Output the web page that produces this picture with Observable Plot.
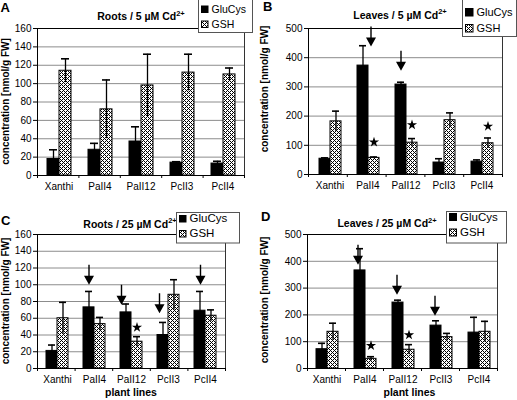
<!DOCTYPE html>
<html><head><meta charset="utf-8">
<script src="https://cdn.jsdelivr.net/npm/d3@7"></script>
<script src="https://cdn.jsdelivr.net/npm/@observablehq/plot@0.6"></script>
<style>
html,body{margin:0;padding:0;background:#fff;}
#chart{position:relative;width:517px;height:400px;overflow:hidden;background:#fff;}
#chart svg{position:absolute;left:0;top:0;}
</style></head>
<body><div id="chart"></div>
<script>
// ---------- data ----------
const lines = ["Xanthi", "PaII4", "PaII12", "PcII3", "PcII4"];
const series = ["GluCys", "GSH"];

const rootsLowGluCys = [18, 28, 37, 14, 13];
const rootsLowGluCysErr = [10, 7, 16, 1, 2.5];
const rootsLowGSH = [114, 72, 98, 112, 110];
const rootsLowGSHErr = [13, 32, 34, 20, 7];

const leavesLowGluCys = [54, 373, 308, 41, 44];
const leavesLowGluCysErr = [3, 68, 8, 13, 6];
const leavesLowGSH = [182, 57, 109, 186, 107];
const leavesLowGSHErr = [35, 3, 14, 25, 18];

const rootsHighGluCys = [21, 73, 67, 40, 69];
const rootsHighGluCysErr = [7, 19, 10, 15, 23];
const rootsHighGSH = [60, 53, 32, 88, 63];
const rootsHighGSHErr = [19, 8, 6, 18, 7];

const leavesHighGluCys = [72, 366, 246, 160, 134];
const leavesHighGluCysErr = [22, 81, 9, 18, 57];
const leavesHighGSH = [137, 36, 70, 117, 137];
const leavesHighGSHErr = [32, 8, 19, 14, 39];

const rootsTicks = [0, 20, 40, 60, 80, 100, 120, 140, 160];
const leavesTicks = [0, 100, 200, 300, 400, 500];

// arrows (tip value) and stars (value)
const leavesLowArrowLines = ["PaII4", "PaII12"];
const leavesLowArrowTips = [438, 355];
const leavesLowStarLines = ["PaII4", "PaII12", "PcII4"];
const leavesLowStarValues = [111, 170, 165];

const rootsHighArrowLines = ["PaII4", "PaII12", "PcII3", "PcII4"];
const rootsHighArrowTips = [100, 76, 66, 100];
const rootsHighStarLines = ["PaII12"];
const rootsHighStarValues = [49];

const leavesHighArrowLines = ["PaII4", "PaII12", "PcII3"];
const leavesHighArrowTips = [387, 275, 197];
const leavesHighStarLines = ["PaII4", "PaII12"];
const leavesHighStarValues = [85, 125];

// ---------- helpers ----------
const FONT = '"Liberation Sans", Arial, Helvetica, sans-serif';
const W = 517, H = 400;

const arrowDown = {
  draw(ctx) {
    ctx.moveTo(0, 0);
    ctx.lineTo(-5, -9);
    ctx.lineTo(-0.7, -9);
    ctx.lineTo(-0.7, -20);
    ctx.lineTo(0.7, -20);
    ctx.lineTo(0.7, -9);
    ctx.lineTo(5, -9);
    ctx.closePath();
  }
};

function rows(glu, gluErr, gsh, gshErr) {
  const out = [];
  lines.forEach((line, i) => {
    out.push({line, series: "GluCys", value: glu[i], err: gluErr[i]});
    out.push({line, series: "GSH", value: gsh[i], err: gshErr[i]});
  });
  return out;
}

const chart = document.getElementById("chart");

function panel({data, ticks, margin, arrowLines, arrowTips, arrowDx, starLines, starValues}) {
  const [mt, mr, mb, ml] = margin;
  const ymax = ticks[ticks.length - 1];
  const common = {
    width: W, height: H,
    marginTop: mt, marginRight: mr, marginBottom: mb, marginLeft: ml,
    style: {background: "transparent", overflow: "visible", fontFamily: FONT, fontSize: "10px", color: "#000"}
  };
  const bg = Plot.plot({
    ...common,
    x: {domain: [0, lines.length], axis: null},
    y: {domain: [0, ymax], axis: null},
    marks: [
      Plot.gridY(ticks, {stroke: "#8c8c8c", strokeOpacity: 1}),
      Plot.axisY(ticks, {tickSize: 4, tickPadding: 2, label: null}),
      Plot.axisX(d3.range(lines.length + 1), {tickSize: 3, tickFormat: () => "", label: null}),
      Plot.ruleY([ymax], {stroke: "#000"}),
      Plot.ruleX([lines.length], {stroke: "#333"}),
      Plot.ruleX([0], {stroke: "#000"}),
      Plot.ruleY([0], {stroke: "#000"})
    ]
  });
  const arrows = arrowLines.map((line, i) => ({line, tip: arrowTips[i]}));
  const stars = starLines.map((line, i) => ({line, value: starValues[i]}));
  const fg = Plot.plot({
    ...common,
    fx: {domain: lines, paddingInner: 0.4, paddingOuter: 0.2, axis: "bottom", label: null, tickSize: 0, tickPadding: 7},
    x: {domain: series, axis: null, padding: 0},
    y: {domain: [0, ymax], axis: null},
    marks: [
      Plot.barY(data, {filter: d => d.series === "GluCys", fx: "line", x: "series", y: "value", fill: "#000", stroke: "#000"}),
      Plot.barY(data, {filter: d => d.series === "GSH", fx: "line", x: "series", y: "value", fill: "url(#chk)", stroke: "#000"}),
      Plot.ruleX(data, {fx: "line", x: "series", y1: d => d.value - d.err, y2: d => d.value + d.err, stroke: "#000", strokeWidth: 1.3}),
      Plot.tickY(data, {fx: "line", x: "series", y: d => d.value + d.err, stroke: "#000", strokeWidth: 1.6, insetLeft: 2, insetRight: 2}),
      ...arrows.map((a, i) => Plot.dot([a], {fx: "line", x: () => "GluCys", y: "tip", symbol: arrowDown, fill: "#000", stroke: "none", dx: arrowDx[i]})),
      Plot.dot(stars, {fx: "line", x: () => "GSH", y: "value", symbol: "star", r: 3.2, fill: "#000", stroke: "none"})
    ]
  });
  chart.appendChild(bg);
  chart.appendChild(fg);
}

panel({
  data: rows(rootsLowGluCys, rootsLowGluCysErr, rootsLowGSH, rootsLowGSHErr),
  ticks: rootsTicks, margin: [28, 273, 225, 37],
  arrowLines: [], arrowTips: [], arrowDx: [], starLines: [], starValues: []
});
panel({
  data: rows(leavesLowGluCys, leavesLowGluCysErr, leavesLowGSH, leavesLowGSHErr),
  ticks: leavesTicks, margin: [28, 15, 226, 308],
  arrowLines: leavesLowArrowLines, arrowTips: leavesLowArrowTips, arrowDx: [8, 0],
  starLines: leavesLowStarLines, starValues: leavesLowStarValues
});
panel({
  data: rows(rootsHighGluCys, rootsHighGluCysErr, rootsHighGSH, rootsHighGSHErr),
  ticks: rootsTicks, margin: [234, 292, 32, 37],
  arrowLines: rootsHighArrowLines, arrowTips: rootsHighArrowTips, arrowDx: [0, -4.5, -3.5, 0.5],
  starLines: rootsHighStarLines, starValues: rootsHighStarValues
});
panel({
  data: rows(leavesHighGluCys, leavesHighGluCysErr, leavesHighGSH, leavesHighGSHErr),
  ticks: leavesTicks, margin: [234, 20, 32, 307],
  arrowLines: leavesHighArrowLines, arrowTips: leavesHighArrowTips, arrowDx: [-2, -1, -1],
  starLines: leavesHighStarLines, starValues: leavesHighStarValues
});

// ---------- overlay: pattern, titles, labels, legends ----------
const ov = d3.create("svg").attr("width", W).attr("height", H).style("font-family", FONT);
const pat = ov.append("defs").append("pattern").attr("id", "chk")
  .attr("width", 4).attr("height", 4).attr("patternUnits", "userSpaceOnUse");
pat.append("rect").attr("width", 4).attr("height", 4).attr("fill", "#fff");
[[0,0],[1,1],[2,2],[3,3],[1,3],[3,1]].forEach(([x, y]) =>
  pat.append("rect").attr("x", x).attr("y", y).attr("width", 1).attr("height", 1).attr("fill", "#000"));

function title(x, y, main) {
  const t = ov.append("text").attr("x", x).attr("y", y).attr("text-anchor", "middle")
    .attr("font-weight", "bold").attr("font-size", 10.5);
  t.append("tspan").text(main);
  t.append("tspan").attr("font-size", 7.5).attr("dy", -4.5).text("2+");
}
title(141, 20, "Roots / 5 \u00b5M Cd");
title(400, 18.5, "Leaves / 5 \u00b5M Cd");
title(130, 227.5, "Roots / 25 \u00b5M Cd");
title(387, 227, "Leaves / 25 \u00b5M Cd");

function letter(x, y, s) {
  ov.append("text").attr("x", x).attr("y", y).attr("font-weight", "bold").attr("font-size", 13).text(s);
}
letter(0.5, 11.5, "A"); letter(263, 11, "B"); letter(1, 225, "C"); letter(261, 221, "D");

function ylabel(cx, cy) {
  ov.append("text").attr("transform", `translate(${cx},${cy}) rotate(-90)`)
    .attr("text-anchor", "middle").attr("dominant-baseline", "central")
    .attr("font-weight", "bold").attr("font-size", 10).text("concentration [nmol/g FW]");
}
ylabel(5, 101.5); ylabel(264.5, 89); ylabel(5, 301); ylabel(264.5, 300);

function xlabel(cx, y) {
  ov.append("text").attr("x", cx).attr("y", y).attr("text-anchor", "middle")
    .attr("font-weight", "bold").attr("font-size", 10.5).text("plant lines");
}
xlabel(131, 396); xlabel(409.5, 396);

function legend(x, y, w, h, fs, sw, rowY) {
  const g = ov.append("g");
  g.append("rect").attr("x", x + 0.5).attr("y", y + 0.5).attr("width", w).attr("height", h)
    .attr("fill", "#fff").attr("stroke", "#555");
  series.forEach((s, i) => {
    g.append("rect").attr("x", x + 3.5).attr("y", rowY[i] - sw).attr("width", sw).attr("height", sw)
      .attr("fill", i === 0 ? "#000" : "url(#chk)").attr("stroke", "#000");
    g.append("text").attr("x", x + 5 + sw + 2).attr("y", rowY[i]).attr("font-size", fs).text(s);
  });
}
legend(198, -1, 54, 33, 10.5, 6.5, [12.5, 27.5]);
legend(462, -1, 54, 37, 11, 7.5, [16, 32]);
legend(176, 212, 63, 30.5, 11.5, 6.5, [222, 237]);
legend(446, 211, 60, 31.5, 11.5, 7, [220.5, 236]);

chart.appendChild(ov.node());
</script>
</body></html>
